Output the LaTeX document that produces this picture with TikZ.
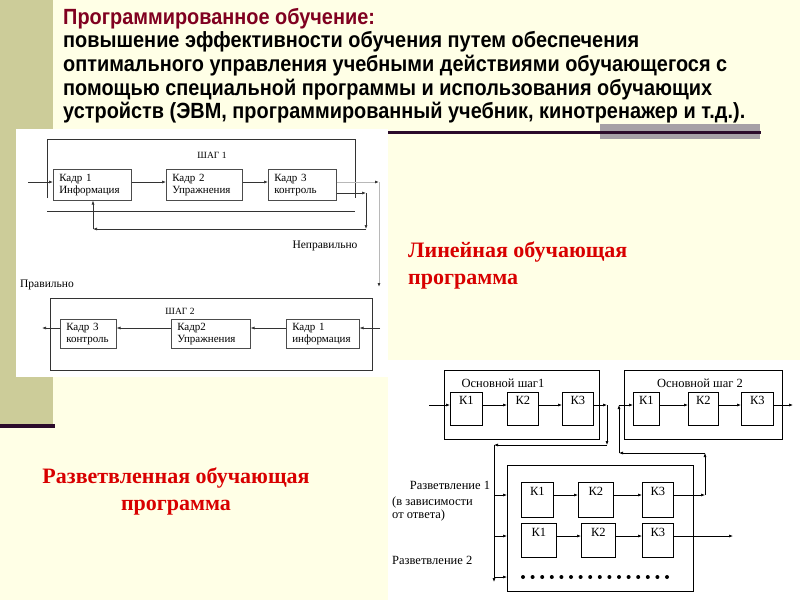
\documentclass[tikz,border=0pt]{standalone}
\usepackage{fontspec}
\setmainfont{Liberation Serif}
\newfontfamily\titlefont{Liberation Sans}
\usetikzlibrary{arrows.meta}
\definecolor{cream}{HTML}{FFFFE6}
\definecolor{khaki}{HTML}{CCCC99}
\definecolor{darkline}{HTML}{2B0B2B}
\definecolor{maroon}{HTML}{800020}
\definecolor{greyrect}{HTML}{A6A0A6}
\definecolor{redtxt}{HTML}{D80000}
\definecolor{lgline}{HTML}{B8B8B8}
\newsavebox\tlbox
\newcommand\tline[1]{\scalebox{\tsx}[1]{\titlefont\bfseries\fontsize{22}{26}\selectfont #1}}
\begin{document}
\sbox\tlbox{\titlefont\bfseries\fontsize{22}{26}\selectfont устройств (ЭВМ, программированный учебник, кинотренажер и т.д.).}%
\edef\tlw{\the\wd\tlbox}%
\pgfmathsetmacro\tsx{682/\tlw}%
\begin{tikzpicture}[x=1pt,y=-1pt,
  arr/.style={-{Latex[length=4pt,width=3pt]}, line width=0.6pt, draw=black!80},
  garr/.style={-{Latex[length=4pt,width=3pt,color=black!80]}, line width=0.8pt, draw=lgline},
  frame/.style={line width=0.6pt, draw=black!80},
  kadr/.style={draw=black!70, line width=0.5pt, align=left, inner xsep=6pt, inner ysep=0pt,
    font=\fontsize{11}{12}\selectfont, anchor=north west},
  kbox/.style={draw=black, line width=0.6pt, anchor=north west, inner sep=0pt},
  lbl/.style={font=\fontsize{11.5}{13}\selectfont, inner sep=0pt},
  slbl/.style={font=\fontsize{9.5}{11}\selectfont, inner sep=0pt},
  rl/.style={font=\fontsize{12.5}{14}\selectfont, inner sep=0pt},
  redt/.style={font=\bfseries\fontsize{22}{27}\selectfont, text=redtxt, inner sep=0pt}
]
\useasboundingbox (0,0) rectangle (800,600);
% backgrounds
\fill[cream] (0,0) rectangle (800,600);
\fill[khaki] (0,0) rectangle (53,425);
\fill[white] (16,129) rectangle (388,377);
\fill[white] (388,360) rectangle (800,600);
\fill[darkline] (0,424) rectangle (55,428);
\fill[greyrect] (600,124) rectangle (760,139);
\fill[darkline] (388,131) rectangle (761,133.5);

% title
\node[anchor=base west, inner sep=0pt, text=maroon] (t0) at (63,24) {\tline{Программированное обучение:}};
\node[anchor=base west, inner sep=0pt] (t1) at (63,47) {\tline{повышение эффективности обучения путем обеспечения}};
\node[anchor=base west, inner sep=0pt] (t2) at (63,71) {\tline{оптимального управления учебными действиями обучающегося с}};
\node[anchor=base west, inner sep=0pt] (t3) at (63,95) {\tline{помощью специальной программы и использования обучающих}};
\node[anchor=base west, inner sep=0pt] (t4) at (63,118) {\tline{устройств (ЭВМ, программированный учебник, кинотренажер и т.д.).}};

% red captions
\node[redt, anchor=base west, align=left] (lin) at (408,257) {Линейная обучающая};
\node[redt, anchor=base west] (lin2) at (408,284) {программа};
\node[redt, anchor=base] (raz) at (176,483) {Разветвленная обучающая};
\node[redt, anchor=base] (raz2) at (176,510) {программа};

% ---------- linear program, step 1 ----------
\draw[frame] (47,198) -- (47,139) -- (355,139) -- (355,198);
\draw[frame] (47,211) -- (355,211);
\node[slbl] (s1) at (212,155) {ШАГ 1};
\node[kadr, text width=66pt, minimum height=31pt] (b11) at (53,169) {Кадр 1\\Информация};
\node[kadr, text width=64pt, minimum height=31pt] (b12) at (166,169) {Кадр 2\\Упражнения};
\node[kadr, text width=56pt, minimum height=31pt] (b13) at (268,169) {Кадр 3\\контроль};
\coordinate (in1) at (28,182);
\draw[arr] (in1) -- (in1 -| b11.west);
\draw[arr] (b11.east |- in1) -- (b12.west |- in1);
\draw[arr] (b12.east |- in1) -- (b13.west |- in1);
\coordinate (o1) at (379,182);
\coordinate (o2) at (379,287);
\draw[garr] (b13.east |- in1) -- (o1);
\draw[garr] (o1) -- (o2);
\coordinate (f1) at (366,193);
\coordinate (f2) at (366,229);
\coordinate (f3) at (93,229);
\draw[arr] (b13.east |- f1) -- (f1);
\draw[arr] (f1) -- (f2);
\draw[arr] (f2) -- (f3);
\draw[arr] (f3) -- (f3 |- b11.south);
\node[lbl] (wrong) at (325,246) {Неправильно};
\node[lbl] (right) at (47,285) {Правильно};

% ---------- step 2 ----------
\draw[frame] (50,298) rectangle (372,370);
\node[slbl] (s2) at (180,311) {ШАГ 2};
\node[kadr, text width=44pt, minimum height=29pt] (c3) at (60,319) {Кадр 3\\контроль};
\node[kadr, text width=67pt, minimum height=29pt] (c2) at (171,319) {Кадр2\\Упражнения};
\node[kadr, text width=61pt, minimum height=29pt] (c1) at (286,319) {Кадр 1\\информация};
\coordinate (in2) at (380,328);
\coordinate (out2) at (42,328);
\draw[arr] (in2) -- (in2 -| c1.east);
\draw[arr] (c1.west |- in2) -- (c2.east |- in2);
\draw[arr] (c2.west |- in2) -- (c3.east |- in2);
\draw[arr] (c3.west |- in2) -- (out2);

% ---------- branched program ----------
\draw[frame, draw=black] (444,370) rectangle (599,439);
\node[rl] (ms1) at (503,383) {Основной шаг1};
\node[kbox, minimum width=32pt, minimum height=33pt] (a1) at (450,392) {};
\node[kbox, minimum width=31pt, minimum height=33pt] (a2) at (507,392) {};
\node[kbox, minimum width=31pt, minimum height=33pt] (a3) at (562,392) {};
\foreach \n/\t in {a1/К1,a2/К2,a3/К3} \node[rl, below=4pt] at (\n.north) {\t};

\draw[frame, draw=black] (624,370) rectangle (782,439);
\node[rl] (ms2) at (700,383) {Основной шаг 2};
\node[kbox, minimum width=26pt, minimum height=33pt] (d1) at (633,392) {};
\node[kbox, minimum width=30pt, minimum height=33pt] (d2) at (688,392) {};
\node[kbox, minimum width=32pt, minimum height=33pt] (d3) at (741,392) {};
\foreach \n/\t in {d1/К1,d2/К2,d3/К3} \node[rl, below=4pt] at (\n.north) {\t};

\coordinate (in3) at (429,405);
\draw[arr, draw=black] (in3) -- (in3 -| a1.west);
\draw[arr, draw=black] (a1.east |- in3) -- (a2.west |- in3);
\draw[arr, draw=black] (a2.east |- in3) -- (a3.west |- in3);
\coordinate (p1) at (607,405);
\coordinate (p2) at (607,445);
\coordinate (p3) at (494,445);
\coordinate (p4) at (494,582);
\draw[arr, draw=black] (a3.east |- in3) -- (p1);
\draw[arr, draw=black] (p1) -- (p2);
\draw[arr, draw=black] (p2) -- (p3);
\draw[arr, draw=black] (p3) -- (p4);

\coordinate (q0) at (619,405);
\draw[arr, draw=black] (q0) -- (q0 -| d1.west);
\draw[arr, draw=black] (d1.east |- q0) -- (d2.west |- q0);
\draw[arr, draw=black] (d2.east |- q0) -- (d3.west |- q0);
\coordinate (q9) at (793,405);
\draw[arr, draw=black] (d3.east |- q0) -- (q9);

% inner branching frame
\draw[frame, draw=black] (507,465) rectangle (693,591);
\node[kbox, minimum width=32pt, minimum height=35pt] (e1) at (521,482) {};
\node[kbox, minimum width=35pt, minimum height=35pt] (e2) at (578,482) {};
\node[kbox, minimum width=31pt, minimum height=35pt] (e3) at (642,482) {};
\node[kbox, minimum width=35pt, minimum height=34pt] (g1) at (521,523) {};
\node[kbox, minimum width=34pt, minimum height=34pt] (g2) at (581,523) {};
\node[kbox, minimum width=31pt, minimum height=34pt] (g3) at (642,523) {};
\foreach \n/\t in {e1/К1,e2/К2,e3/К3,g1/К1,g2/К2,g3/К3} \node[rl, below=5pt] at (\n.north) {\t};

\coordinate (r1) at (494,495);
\coordinate (r2) at (494,536);
\coordinate (r3) at (494,577);
\draw[arr, draw=black] (r1) -- (507,495);
\draw[arr, draw=black] (e1.east |- r1) -- (e2.west |- r1);
\draw[arr, draw=black] (e2.east |- r1) -- (e3.west |- r1);
\coordinate (u1) at (705,495);
\coordinate (u2) at (705,453);
\coordinate (u3) at (619,453);
\draw[arr, draw=black] (e3.east |- r1) -- (u1);
\draw[arr, draw=black] (u1) -- (u2);
\draw[arr, draw=black] (u2) -- (u3);
\draw[arr, draw=black] (u3) -- (q0);

\draw[arr, draw=black] (r2) -- (507,536);
\draw[arr, draw=black] (g1.east |- r2) -- (g2.west |- r2);
\draw[arr, draw=black] (g2.east |- r2) -- (g3.west |- r2);
\coordinate (v1) at (733,536);
\draw[arr, draw=black] (g3.east |- r2) -- (v1);

\draw[arr, draw=black] (r3) -- (507,577);
\foreach \i in {0,...,15} \fill (523+\i*9.6,577) circle (2);

\node[rl, anchor=base] (br1) at (450,489) {Разветвление 1};
\node[rl, anchor=base west] (br1b) at (392,505) {(в зависимости};
\node[rl, anchor=base west] (br1c) at (392,518) {от ответа)};
\node[rl, anchor=base west] (br2) at (392,564) {Разветвление 2};
\end{tikzpicture}
\end{document}
